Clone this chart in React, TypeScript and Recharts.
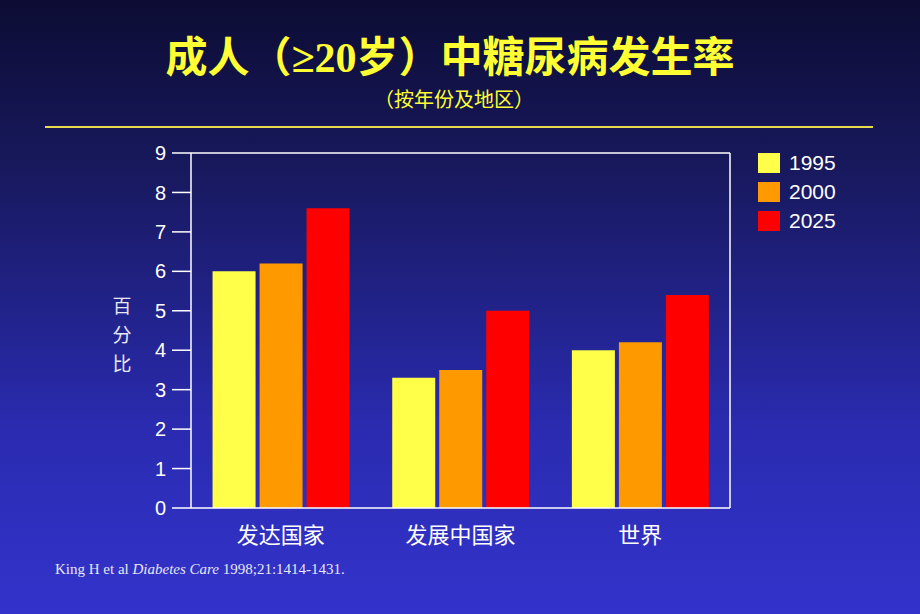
import React from 'react';
import { BarChart, Bar, XAxis, YAxis } from 'recharts';

const regions = ['发达国家', '发展中国家', '世界'];
const y1995 = [6.0, 3.3, 4.0];
const y2000 = [6.2, 3.5, 4.2];
const y2025 = [7.6, 5.0, 5.4];
const yTicks = [0, 1, 2, 3, 4, 5, 6, 7, 8, 9];

const series = [
  { key: 'y1995', name: '1995', color: '#ffff4a' },
  { key: 'y2000', name: '2000', color: '#ff9900' },
  { key: 'y2025', name: '2025', color: '#ff0000' },
];

const data = regions.map((region, i) => ({
  region,
  y1995: y1995[i],
  y2000: y2000[i],
  y2025: y2025[i],
}));

const LegendBox = () => (
  <div style={{ position: 'absolute', left: 758, top: 148 }}>
    {series.map((s) => (
      <div key={s.key} style={{ display: 'flex', alignItems: 'center', height: 29 }}>
        <span style={{ width: 22, height: 20, background: s.color, display: 'inline-block', marginRight: 9 }} />
        <span style={{ color: '#ffffff', fontSize: 21, fontFamily: 'Liberation Sans, Arial, sans-serif' }}>{s.name}</span>
      </div>
    ))}
  </div>
);

const App: React.FC = () => {
  return (
    <div
      style={{
        position: 'absolute',
        left: 0,
        top: 0,
        width: 920,
        height: 614,
        overflow: 'hidden',
        background: 'linear-gradient(to bottom, #0c0c34 0%, #18195e 28%, #2a2bb0 70%, #3333cc 100%)',
      }}
    >
      <div
        style={{
          position: 'absolute',
          left: 0,
          top: 25,
          width: 900,
          textAlign: 'center',
          color: '#ffff33',
          fontSize: 42,
          fontWeight: 'bold',
          fontFamily: '"Noto Sans CJK SC", sans-serif',
          lineHeight: '58px',
        }}
      >
        成人（<span style={{ fontFamily: 'Liberation Serif, serif' }}>≥20</span>岁）中糖尿病发生率
      </div>
      <div
        style={{
          position: 'absolute',
          left: 0,
          top: 85,
          width: 908,
          textAlign: 'center',
          color: '#ffff33',
          fontSize: 20,
          fontFamily: '"Noto Sans CJK SC", sans-serif',
          lineHeight: '28px',
        }}
      >
        （按年份及地区）
      </div>
      <div style={{ position: 'absolute', left: 45, top: 126, width: 828, height: 2, background: '#e9dc4c' }} />
      <div
        style={{
          position: 'absolute',
          left: 111,
          top: 290,
          width: 22,
          color: '#e8e8f0',
          fontSize: 19,
          lineHeight: '29px',
          fontFamily: '"Noto Sans CJK SC", sans-serif',
          textAlign: 'center',
        }}
      >
        百<br />分<br />比
      </div>
      <div
        style={{
          position: 'absolute',
          left: 55,
          top: 561,
          color: '#e8e8f0',
          fontSize: 15,
          fontFamily: 'Liberation Serif, serif',
        }}
      >
        King H et al <i>Diabetes Care</i> 1998;21:1414-1431.
      </div>
      <div style={{ position: 'absolute', left: 0, top: 0 }}>
        <BarChart
          width={920}
          height={614}
          data={data}
          margin={{ top: 152, right: 189, left: 131, bottom: 66 }}
          barCategoryGap="12%"
          barGap={4}
        >
          <XAxis
            dataKey="region"
            tickLine={false}
            axisLine={{ stroke: '#ffffff', strokeWidth: 1.5 }}
            tick={{ fill: '#ffffff', fontSize: 22, fontFamily: '"Noto Sans CJK SC", sans-serif' }}
            tickMargin={13}
            height={40}
          />
          <XAxis
            xAxisId="top"
            dataKey="region"
            orientation="top"
            tick={false}
            tickLine={false}
            height={1}
            axisLine={{ stroke: '#ffffff', strokeWidth: 1.5 }}
          />
          <YAxis
            domain={[0, 9]}
            ticks={yTicks}
            interval={0}
            width={60}
            tickSize={19}
            tickMargin={6}
            axisLine={{ stroke: '#ffffff', strokeWidth: 1.5 }}
            tickLine={{ stroke: '#ffffff', strokeWidth: 1.5 }}
            tick={{ fill: '#ffffff', fontSize: 20, fontFamily: 'Liberation Sans, Arial, sans-serif' }}
          />
          <YAxis
            yAxisId="right"
            orientation="right"
            domain={[0, 9]}
            tick={false}
            tickLine={false}
            width={1}
            axisLine={{ stroke: '#ffffff', strokeWidth: 1.5 }}
          />
          {series.map((s) => (
            <Bar key={s.key} dataKey={s.key} name={s.name} fill={s.color} isAnimationActive={false} />
          ))}
        </BarChart>
      </div>
      <LegendBox />
    </div>
  );
};

export default App;
